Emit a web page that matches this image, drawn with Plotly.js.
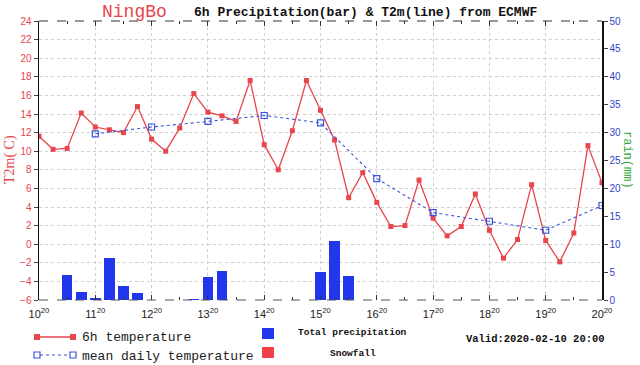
<!DOCTYPE html>
<html>
<head>
<meta charset="utf-8">
<script src="https://cdn.plot.ly/plotly-3.0.1.min.js"></script>
<style>html,body{margin:0;padding:0;background:#fff;}#chart{width:640px;height:365px;}</style>
</head>
<body>
<div id="chart"></div>
<script>
// Time axis: hours after 2020-02-10 20:00, one point every 6 h
var stepHours = 6;
var temp6h = [11.6, 10.2, 10.3, 14.1, 12.6, 12.3, 12.0, 14.8, 11.3, 10.0,
              12.5, 16.2, 14.2, 13.8, 13.2, 17.6, 10.7, 8.0, 12.2, 17.6,
              14.4, 11.2, 5.0, 7.7, 4.5, 1.9, 2.0, 6.9, 2.8, 0.9,
              1.9, 5.4, 1.5, -1.5, 0.5, 6.4, 0.4, -1.9, 1.2, 10.6, 6.6];
var precip6h = [0, 0, 4.5, 1.4, 0.3, 7.5, 2.5, 1.2, 0, 0,
                0, 0.25, 4.1, 5.15, 0, 0, 0, 0, 0, 0,
                5.0, 10.5, 4.25, 0, 0, 0, 0, 0, 0, 0,
                0, 0, 0, 0, 0, 0, 0, 0, 0, 0, 0];
var meanHours = [24, 48, 72, 96, 120, 144, 168, 192, 216, 240];
var meanDaily = [11.87, 12.6, 13.2, 13.84, 13.05, 7.06, 3.4, 2.47, 1.5, 4.16];
var dayTickHours = [0, 24, 48, 72, 96, 120, 144, 168, 192, 216, 240];
var dayTickLabels = ['10<sup>20</sup>', '11<sup>20</sup>', '12<sup>20</sup>', '13<sup>20</sup>', '14<sup>20</sup>',
                     '15<sup>20</sup>', '16<sup>20</sup>', '17<sup>20</sup>', '18<sup>20</sup>', '19<sup>20</sup>', '20<sup>20</sup>'];

var hours = temp6h.map(function (_, i) { return i * stepHours; });

var RED = '#e8454c', BLUE = '#2236ee', LBLUE = '#3a55d8';
var W = 640, H = 365, L = 39, R = 602, T = 21, B = 300;
function px(x) { return (x - L) / (R - L); }
function py(y) { return (B - y) / (B - T); }

var traces = [
  { type: 'bar', x: hours, y: precip6h, yaxis: 'y2', width: 4.5,
    marker: { color: BLUE, line: { width: 0 } }, hoverinfo: 'x+y' },
  { type: 'scatter', mode: 'lines+markers', x: hours, y: temp6h,
    line: { color: RED, width: 1.3 },
    marker: { symbol: 'square', size: 5, color: RED } },
  { type: 'scatter', mode: 'lines+markers', x: meanHours, y: meanDaily,
    line: { color: LBLUE, width: 1.1, dash: 'dot' },
    marker: { symbol: 'square-open', size: 6, color: LBLUE, line: { width: 1.2 } } }
];

var mono = 'Liberation Mono, Courier New, monospace';
var shapes = [
  { type: 'line', xref: 'paper', yref: 'paper', x0: 0, x1: 1, y0: 1, y1: 1,
    line: { color: '#333', width: 1, dash: 'dash' } },
  { type: 'line', xref: 'paper', yref: 'paper', x0: 0, x1: 1, y0: 0, y1: 0,
    line: { color: '#555', width: 1, dash: 'dash' } },
  // legend symbols
  { type: 'line', xref: 'paper', yref: 'paper', x0: px(37), x1: px(73), y0: py(337), y1: py(337),
    line: { color: RED, width: 1.3 } },
  { type: 'rect', xref: 'paper', yref: 'paper', x0: px(34), x1: px(40), y0: py(334), y1: py(340),
    fillcolor: RED, line: { width: 0 } },
  { type: 'rect', xref: 'paper', yref: 'paper', x0: px(70), x1: px(76), y0: py(334), y1: py(340),
    fillcolor: RED, line: { width: 0 } },
  { type: 'line', xref: 'paper', yref: 'paper', x0: px(40), x1: px(70), y0: py(355), y1: py(355),
    line: { color: LBLUE, width: 1, dash: 'dot' } },
  { type: 'rect', xref: 'paper', yref: 'paper', x0: px(34), x1: px(40), y0: py(352), y1: py(358),
    fillcolor: 'rgba(0,0,0,0)', line: { color: LBLUE, width: 1.2 } },
  { type: 'rect', xref: 'paper', yref: 'paper', x0: px(70), x1: px(76), y0: py(352), y1: py(358),
    fillcolor: 'rgba(0,0,0,0)', line: { color: LBLUE, width: 1.2 } },
  { type: 'rect', xref: 'paper', yref: 'paper', x0: px(262), x1: px(274), y0: py(328), y1: py(339),
    fillcolor: BLUE, line: { width: 0 } },
  { type: 'rect', xref: 'paper', yref: 'paper', x0: px(262), x1: px(274), y0: py(347), y1: py(358),
    fillcolor: '#f04048', line: { width: 0 } }
];

function ann(text, x, y, font, opts) {
  var a = { text: text, xref: 'paper', yref: 'paper', x: px(x), y: py(y), showarrow: false,
            xanchor: 'left', yanchor: 'middle', font: font };
  for (var k in (opts || {})) a[k] = opts[k];
  return a;
}

var annotations = [
  ann('NingBo', 100, 12, { family: mono, size: 18, color: RED }),
  ann('<b>6h Precipitation(bar) &amp; T2m(line) from ECMWF</b>', 192, 12, { family: mono, size: 13, color: '#111' }),
  ann('T2m( C)', 10, 160, { family: 'Liberation Serif, serif', size: 14, color: RED }, { textangle: -90, xanchor: 'center' }),
  ann('rain(mm)', 627, 160, { family: mono, size: 12, color: '#33a833' }, { textangle: 90, xanchor: 'center' }),
  ann('6h temperature', 80, 337, { family: mono, size: 13, color: '#222' }),
  ann('mean daily temperature', 80, 356, { family: mono, size: 13, color: '#222' }),
  ann('<b>Total precipitation</b>', 296, 333, { family: mono, size: 9.5, color: '#111' }),
  ann('<b>Snowfall</b>', 328, 353, { family: mono, size: 9.5, color: '#111' }),
  ann('<b>Valid:2020-02-10 20:00</b>', 464, 339, { family: mono, size: 10.5, color: '#111' })
];

var layout = {
  width: W, height: H,
  margin: { l: L, r: W - R, t: T, b: H - B, pad: 0 },
  paper_bgcolor: '#fff', plot_bgcolor: '#fff',
  showlegend: false,
  bargap: 0,
  xaxis: {
    range: [0, 240], tickmode: 'array', tickvals: dayTickHours, ticktext: dayTickLabels,
    ticks: 'inside', ticklen: 5, tickcolor: '#333', mirror: 'ticks',
    showline: false, zeroline: false, ticklabelstandoff: 6,
    showgrid: true, gridcolor: '#cfcfcf', griddash: 'dot', gridwidth: 1,
    minor: { dtick: 12, tick0: 0, ticks: 'inside', ticklen: 3, tickcolor: '#333', showgrid: false },
    tickfont: { family: 'Liberation Sans, Arial, sans-serif', size: 11, color: '#222' }
  },
  yaxis: {
    range: [-6, 24], dtick: 2, tick0: -6,
    ticks: 'outside', ticklen: 4, tickcolor: '#444',
    showline: true, linecolor: '#111', linewidth: 1.5, zeroline: false,
    showgrid: true, gridcolor: '#cfcfcf', griddash: 'dot', gridwidth: 1,
    tickfont: { family: 'Liberation Sans, Arial, sans-serif', size: 10, color: RED }
  },
  yaxis2: {
    range: [0, 50], dtick: 5, overlaying: 'y', side: 'right',
    ticks: 'outside', ticklen: 4, tickcolor: '#444',
    showline: true, linecolor: '#111', linewidth: 1.5, zeroline: false, showgrid: false,
    tickfont: { family: 'Liberation Sans, Arial, sans-serif', size: 10, color: '#3344cc' }
  },
  shapes: shapes,
  annotations: annotations
};

Plotly.newPlot('chart', traces, layout, { displayModeBar: false, staticPlot: true });
</script>
</body>
</html>
